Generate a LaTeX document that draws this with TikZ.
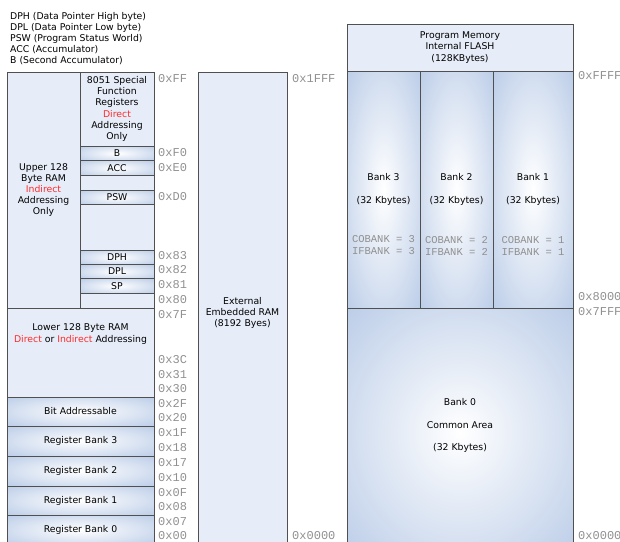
\documentclass[tikz,border=0pt]{standalone}
\usepackage{fontspec}
\setmainfont{DejaVu Sans}
\setmonofont{Liberation Mono}
\usetikzlibrary{positioning}
\definecolor{memLight}{HTML}{E6EDF8}
\definecolor{memBlue}{HTML}{AAC0E2}
\definecolor{memLine}{HTML}{505050}
\definecolor{memRed}{HTML}{FF2A2A}
\definecolor{memHex}{HTML}{909090}
\pgfdeclareradialshading{cellglow}{\pgfpoint{0bp}{0bp}}{color(0bp)=(white); color(45bp)=(memBlue); color(80bp)=(memBlue)}

\begin{document}
\begin{tikzpicture}[x=1pt, y=-1pt,
  cell/.style={draw=memLine, line width=0.8pt, fill=memLight, inner sep=0pt, outer sep=0pt, align=center, font=\fontsize{9.3}{11.2}\selectfont},
  regcell/.style={cell, shading=cellglow},
  label/.style={inner sep=0pt, align=center, font=\fontsize{9.3}{11.2}\selectfont},
  hex/.style={anchor=west, inner sep=0pt, text=memHex, font=\ttfamily\fontsize{12}{12}\selectfont},
  bankreg/.style={inner sep=0pt, align=center, text=memHex, font=\ttfamily\fontsize{10.5}{12}\selectfont}
]
  \useasboundingbox (0,0) rectangle (620,541);
  \clip (0,0) rectangle (620,541);

  % legend
  \node[label, align=left, anchor=north west] (legend) at (10,11.8)
    {DPH (Data Pointer High byte)\\DPL (Data Pointer Low byte)\\PSW (Program Status World)\\ACC (Accumulator)\\B (Second Accumulator)};

  % internal RAM, upper 128
  \node[cell, anchor=north west, minimum width=73pt, minimum height=236pt] (upper) at (7,72)
    {Upper 128\\Byte RAM\\\textcolor{memRed}{Indirect}\\Addressing\\Only};
  \node[cell, anchor=north west, minimum width=74pt, minimum height=74pt] (sfr) at (upper.north east)
    {8051 Special\\Function\\Registers\\\textcolor{memRed}{Direct}\\Addressing\\Only};
  \node[regcell, minimum width=74pt, minimum height=14.7pt, below=0pt of sfr] (regb) {B};
  \node[regcell, minimum width=74pt, minimum height=14.6pt, below=0pt of regb] (regacc) {ACC};
  \node[cell, minimum width=74pt, minimum height=14.7pt, below=0pt of regacc] (gapa) {};
  \node[regcell, minimum width=74pt, minimum height=14.7pt, below=0pt of gapa] (regpsw) {PSW};
  \node[cell, minimum width=74pt, minimum height=45.3pt, below=0pt of regpsw] (gapb) {};
  \node[regcell, minimum width=74pt, minimum height=14.6pt, below=0pt of gapb] (regdph) {DPH};
  \node[regcell, minimum width=74pt, minimum height=14pt, below=0pt of regdph] (regdpl) {DPL};
  \node[regcell, minimum width=74pt, minimum height=14.7pt, below=0pt of regdpl] (regsp) {SP};
  \node[cell, minimum width=74pt, minimum height=14.7pt, below=0pt of regsp] (gapc) {};

  % internal RAM, lower 128
  \node[cell, anchor=north west, minimum width=147pt, minimum height=89pt] (lower) at (upper.south west) {};
  \node[label] (lowertxt) at (80.5,334)
    {Lower 128 Byte RAM\\\textcolor{memRed}{Direct} or \textcolor{memRed}{Indirect} Addressing};
  \node[regcell, minimum width=147pt, minimum height=29pt, below=0pt of lower] (bitaddr) {Bit Addressable};
  \node[regcell, minimum width=147pt, minimum height=30pt, below=0pt of bitaddr] (rbank3) {Register Bank 3};
  \node[regcell, minimum width=147pt, minimum height=30pt, below=0pt of rbank3] (rbank2) {Register Bank 2};
  \node[regcell, minimum width=147pt, minimum height=29pt, below=0pt of rbank2] (rbank1) {Register Bank 1};
  \node[regcell, minimum width=147pt, minimum height=30pt, below=0pt of rbank1] (rbank0) {Register Bank 0};

  % external RAM
  \node[cell, anchor=north west, minimum width=89pt, minimum height=490pt] (xram) at (198,72) {};
  \node[label] (xramtxt) at (242.5,313) {External\\Embedded RAM\\(8192 Byes)};

  % program memory
  \node[cell, anchor=north west, minimum width=226pt, minimum height=47pt] (flash) at (347,24)
    {Program Memory\\Internal FLASH\\(128KBytes)};
  \node[regcell, anchor=north west, minimum width=73pt, minimum height=237pt] (bank3) at (flash.south west) {};
  \node[regcell, minimum width=73pt, minimum height=237pt, right=0pt of bank3] (bank2) {};
  \node[regcell, minimum width=80pt, minimum height=237pt, right=0pt of bank2] (bank1) {};
  \node[regcell, anchor=north west, minimum width=226pt, minimum height=250pt] (bank0) at (bank3.south west) {};
  \foreach \bk in {3,2,1}{
    \node[label, font=\fontsize{9.3}{23}\selectfont] (bank\bk txt) at (bank\bk.center) {Bank \bk\\(32 Kbytes)};
    \node[bankreg] (bank\bk reg) at ([yshift=-56pt]bank\bk.center) {COBANK = \bk\\IFBANK = \bk};
  }
  \node[label, font=\fontsize{9.3}{22.5}\selectfont] (bank0txt) at (460,425.5) {Bank 0\\Common Area\\(32 Kbytes)};

  % addresses
  \foreach \addr/\ypos in {0xFF/79, 0xF0/153, 0xE0/168, 0xD0/197, 0x83/255.5, 0x82/270, 0x81/284.5, 0x80/300,
      0x7F/315, 0x3C/360, 0x31/374.7, 0x30/389, 0x2F/403.7, 0x20/418, 0x1F/433, 0x18/448,
      0x17/463, 0x10/477.7, 0x0F/492.7, 0x08/507, 0x07/521.7, 0x00/535.5}
    \node[hex] (iram\addr) at (158,\ypos) {\addr};
  \node[hex] (xramtop) at (292,79) {0x1FFF};
  \node[hex] (xrambot) at (292,535.5) {0x0000};
  \foreach \addr/\ypos in {0xFFFF/76, 0x8000/297, 0x7FFF/312, 0x0000/535.5}
    \node[hex] (flash\addr) at (578,\ypos) {\addr};
\end{tikzpicture}
\end{document}
